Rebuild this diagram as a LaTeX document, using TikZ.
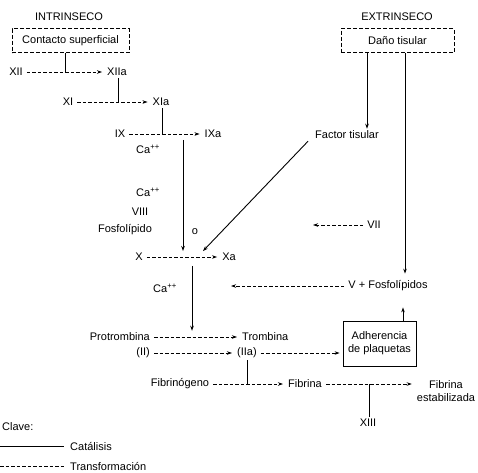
\documentclass[tikz,border=0pt]{standalone}
\usepackage{fontspec}
\setmainfont{Liberation Sans}
\usetikzlibrary{arrows.meta}

\tikzset{
  txt/.style={font=\fontsize{11}{13}\selectfont, inner sep=2pt},
  caja/.style={txt, draw, line width=0.8pt, dash pattern=on 4pt off 2pt, minimum height=24pt},
  guion/.style={line width=0.8pt, dash pattern=on 3.5pt off 2pt},
  trans/.style={guion, -{Stealth[length=5pt,width=3.5pt]}, shorten <=2pt, shorten >=3pt},
  cat/.style={line width=0.9pt},
  catarr/.style={cat, -{Stealth[length=5pt,width=3.5pt]}},
}

\begin{document}
\begin{tikzpicture}[x=1pt,y=-1pt]
\useasboundingbox (0,0) rectangle (478,472);
% via intrinseca
\node[txt] (intr) at (69,17) {INTRINSECO};
\node[caja, minimum width=117pt] (contacto) at (70.5,40.5) {Contacto superficial};
\node[txt] (xii) at (16,72) {XII};
\node[txt] (xiia) at (117,72) {XIIa};
\node[txt] (xi) at (68,102) {XI};
\node[txt] (xia) at (161,102) {XIa};
\node[txt] (ix) at (120,134) {IX};
\node[txt] (ixa) at (213,134) {IXa};
\node[txt] (ca1) at (148,149) {Ca\textsuperscript{++}};
\node[txt] (ca2) at (148,192) {Ca\textsuperscript{++}};
\node[txt] (viii) at (140,212) {VIII};
\node[txt] (fosf) at (125,230) {Fosfolípido};
\node[txt] (o) at (195,232) {o};
\node[txt] (x) at (139,257) {X};
\node[txt] (xa) at (229,257) {Xa};
% via extrinseca
\node[txt] (extr) at (397,17) {EXTRINSECO};
\node[caja, minimum width=113pt] (dano) at (397.5,40.5) {Daño tisular};
\node[txt] (ftis) at (347,135) {Factor tisular};
\node[txt] (vii) at (374,225) {VII};
\node[txt] (vfos) at (388,286) {V + Fosfolípidos};
\coordinate (viiend) at (310,225);
\coordinate (vfosend) at (228,286);
% via comun
\node[txt] (ca3) at (165,288) {Ca\textsuperscript{++}};
\node[txt, anchor=east] (prot) at (152,337) {Protrombina};
\node[txt, anchor=east] (ii) at (152,353) {(II)};
\node[txt, anchor=west] (trom) at (240,337) {Trombina};
\node[txt, anchor=west] (iia) at (235,353) {(IIa)};
\node[txt, draw, line width=0.8pt, minimum width=73pt, minimum height=45pt, align=center] (adh) at (379.5,343.5) {Adherencia\\de plaquetas};
\node[txt] (fibg) at (180,384) {Fibrinógeno};
\node[txt] (fib) at (305,384) {Fibrina};
\node[txt, align=center] (fibe) at (446,391) {Fibrina\\estabilizada};
\node[txt] (xiii) at (368,423) {XIII};
% clave
\node[txt, anchor=west] (clave) at (0,427) {Clave:};
\node[txt, anchor=west] (catal) at (68,446) {Catálisis};
\node[txt, anchor=base west] (transf) at (68,470) {Transformación};
\coordinate (leg1) at (0,446);
\coordinate (leg2) at (0,466);

% transformaciones
\draw[trans] (xii) -- (xiia);
\draw[trans] (xi) -- (xia);
\draw[trans] (ix) -- (ixa);
\draw[trans] (x) -- (xa);
\draw[trans] (vii) -- (viiend);
\draw[trans] (vfos) -- (vfosend);
\draw[trans] (prot) -- (trom);
\draw[trans] (ii) -- (iia);
\draw[trans] (iia) -- (iia -| adh.west);
\draw[trans] (fibg) -- (fib);
\draw[trans] (fib) -- (fib -| fibe.west);

% catalisis
\draw[cat] (contacto.south -| 65,0) -- (xii -| 65,0);
\draw[cat] (xiia.south -| 118,0) -- (xi -| 118,0);
\draw[cat] (xia.south -| 162,0) -- (ix -| 162,0);
\draw[catarr] (ix.south -| 183,0) -- (x.north -| 183,0);
\draw[catarr] ([xshift=-5pt]ftis.south west) -- (x.north -| 203,0);
\draw[catarr] (dano.south -| 367,0) -- (ftis.north -| 367,0);
\draw[catarr, shorten >=5pt] (dano.south -| 405,0) -- (vfos.north -| 405,0);
\draw[catarr, shorten >=14pt] (adh.north -| 403,0) -- (vfos.south -| 403,0);
\draw[catarr] ([yshift=-3pt]x.south -| 192,0) -- (prot.north -| 192,0);
\draw[cat] (iia.south -| 247,0) -- (fibg -| 247,0);
\draw[cat] (xiii.north -| 369,0) -- (fib -| 369,0);

% clave
\draw[cat, shorten >=4pt] (leg1) -- (catal.west);
\draw[guion, shorten >=4pt] (leg2) -- (leg2 -| transf.west);
\end{tikzpicture}
\end{document}
